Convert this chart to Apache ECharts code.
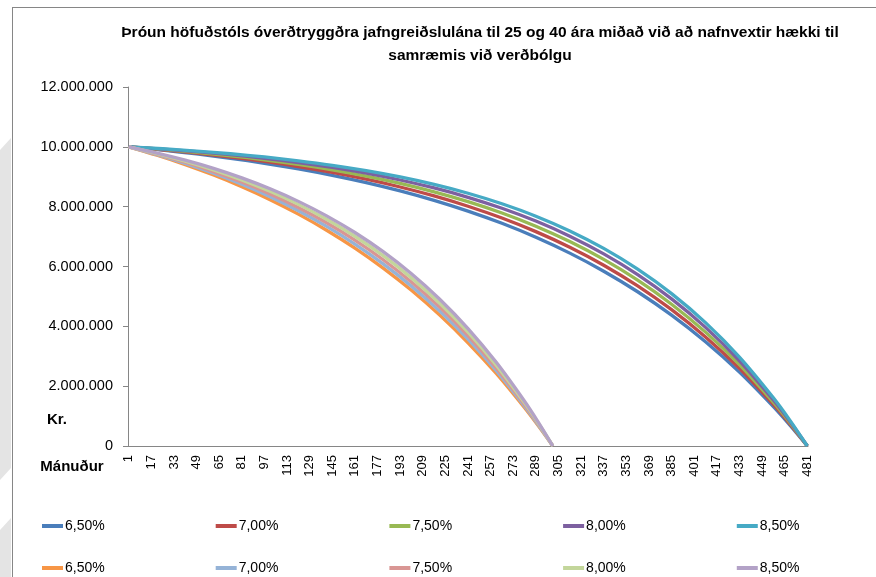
<!DOCTYPE html>
<html>
<head>
<meta charset="utf-8">
<script src="https://cdn.jsdelivr.net/npm/echarts@6/dist/echarts.min.js"></script>
<style>
html,body{margin:0;padding:0;background:#fff;}
#chart{width:876px;height:577px;}
</style>
</head>
<body>
<div id="chart"></div>
<script>
// ---- Data ----
const titleText = 'Þróun höfuðstóls óverðtryggðra jafngreiðslulána til 25 og 40 ára miðað við að nafnvextir hækki til\nsamræmis við verðbólgu';
const yAxisTitle = 'Kr.';
const xAxisTitle = 'Mánuður';
const rateLabels = ['6,50%', '7,00%', '7,50%', '8,00%', '8,50%'];

// month categories 1..481
const months = [];
for (let m = 1; m <= 481; m++) months.push(m);

// 40-year loans (sampled months)
const months40 = [1,25,49,73,97,121,145,169,193,217,241,265,289,313,337,361,385,409,433,457,469,481];
const loan40_650 = [10000000,9888000,9761000,9616000,9451000,9263000,9049000,8805000,8528000,8212000,7852000,7443000,6977000,6447000,5843000,5156000,4373000,3483000,2469000,1314000,678000,0];
const loan40_700 = [10000000,9902000,9790000,9660000,9512000,9341000,9144000,8918000,8658000,8359000,8015000,7620000,7166000,6644000,6043000,5352000,4558000,3645000,2595000,1388000,718000,0];
const loan40_750 = [10000000,9915000,9816000,9701000,9567000,9412000,9231000,9022000,8779000,8497000,8169000,7788000,7346000,6833000,6236000,5544000,4740000,3806000,2722000,1462000,759000,0];
const loan40_800 = [10000000,9926000,9839000,9736000,9617000,9476000,9311000,9118000,8891000,8625000,8313000,7947000,7518000,7014000,6423000,5731000,4918000,3966000,2848000,1537000,799000,0];
const loan40_850 = [10000000,9936000,9859000,9769000,9661000,9534000,9384000,9205000,8994000,8744000,8448000,8096000,7681000,7188000,6604000,5913000,5094000,4124000,2974000,1613000,841000,0];

// 25-year loans (sampled months)
const months25 = [1,21,41,61,81,101,121,141,161,181,201,221,241,261,281,291,301];
const loan25_650 = [10000000,9719000,9405000,9056000,8667000,8234000,7751000,7213000,6614000,5946000,5203000,4374000,3451000,2422000,1277000,656000,0];
const loan25_700 = [10000000,9739000,9446000,9116000,8746000,8330000,7863000,7339000,6749000,6087000,5344000,4508000,3569000,2515000,1331000,685000,0];
const loan25_750 = [10000000,9758000,9484000,9173000,8822000,8423000,7972000,7461000,6882000,6226000,5483000,4641000,3688000,2608000,1385000,714000,0];
const loan25_800 = [10000000,9776000,9520000,9227000,8893000,8512000,8076000,7579000,7011000,6361000,5620000,4773000,3806000,2702000,1441000,744000,0];
const loan25_850 = [10000000,9793000,9554000,9279000,8962000,8597000,8177000,7693000,7136000,6495000,5756000,4905000,3925000,2796000,1497000,775000,0];

const colors40 = ['#4A7EBB', '#BE4B48', '#98B954', '#7D60A0', '#46AAC5'];
const colors25 = ['#F79646', '#95B3D7', '#D99694', '#C3D69B', '#B3A2C7'];

// ---- Build options ----
const FONT = '"Liberation Sans", Arial, sans-serif';
const sets40 = [loan40_650, loan40_700, loan40_750, loan40_800, loan40_850];
const sets25 = [loan25_650, loan25_700, loan25_750, loan25_800, loan25_850];

function pairs(ms, vals) { return ms.map((m, i) => [String(m), vals[i]]); }

const series = [];
const names40 = [], names25 = [];
sets40.forEach((vals, i) => {
  const n = '40 ' + rateLabels[i];
  names40.push(n);
  series.push({ name: n, type: 'line', data: pairs(months40, vals), symbol: 'none', smooth: 0.3,
    lineStyle: { width: 3.3, color: colors40[i] }, itemStyle: { color: colors40[i] } });
});
sets25.forEach((vals, i) => {
  const n = '25 ' + rateLabels[i];
  names25.push(n);
  series.push({ name: n, type: 'line', data: pairs(months25, vals), symbol: 'none', smooth: 0.3,
    lineStyle: { width: 3.3, color: colors25[i] }, itemStyle: { color: colors25[i] } });
});

const legendCommon = {
  orient: 'horizontal', icon: 'rect', itemWidth: 21, itemHeight: 4, itemGap: 111,
  textStyle: { fontFamily: FONT, fontSize: 14, color: '#000', padding: [0,0,0,-3] },
  formatter: name => name.split(' ')[1], selectedMode: false
};

const option = {
  animation: false,
  backgroundColor: '#fff',
  grid: { left: 128, right: 68, top: 87, bottom: 131, containLabel: false },
  xAxis: {
    type: 'category', data: months.map(String), boundaryGap: true,
    axisLine: { lineStyle: { color: '#868686', width: 1 } },
    axisTick: { interval: 0, length: 5, lineStyle: { color: '#868686' } },
    axisLabel: { interval: 15, rotate: 90, fontFamily: FONT, fontSize: 13, color: '#000', margin: 9 },
    splitLine: { show: false }
  },
  yAxis: {
    type: 'value', min: 0, max: 12000000, interval: 2000000,
    axisLine: { show: true, lineStyle: { color: '#868686' } },
    axisTick: { show: true, length: 5, lineStyle: { color: '#868686' } },
    splitLine: { show: false },
    axisLabel: { fontFamily: FONT, fontSize: 14.5, color: '#000', margin: 15,
      formatter: v => String(v).replace(/\B(?=(\d{3})+(?!\d))/g, '.') }
  },
  legend: [
    Object.assign({ data: names40, left: 37, top: 514 }, legendCommon),
    Object.assign({ data: names25, left: 37, top: 556 }, legendCommon)
  ],
  series: series,
  graphic: [
    { type: 'polygon', silent: true, shape: { points: [[0,150],[11,138],[11,468],[0,480]] }, style: { fill: '#e4e4e4' } },
    { type: 'polygon', silent: true, shape: { points: [[0,530],[11,518],[11,577],[0,577]] }, style: { fill: '#e4e4e4' } },
    { type: 'line', silent: true, shape: { x1: 12, y1: 7.5, x2: 876, y2: 7.5 }, style: { stroke: '#868686', lineWidth: 1 } },
    { type: 'line', silent: true, shape: { x1: 12.5, y1: 7, x2: 12.5, y2: 577 }, style: { stroke: '#868686', lineWidth: 1 } },
    { type: 'text', silent: true, x: 480, y: 21, style: { text: titleText, fontFamily: FONT, fontSize: 15.5, fontWeight: 'bold', fill: '#000', textAlign: 'center', lineHeight: 23 } },
    { type: 'text', silent: true, x: 57, y: 420, style: { text: yAxisTitle, fontFamily: FONT, fontSize: 15, fontWeight: 'bold', fill: '#000', textAlign: 'center', textVerticalAlign: 'middle' } },
    { type: 'text', silent: true, x: 72, y: 467, style: { text: xAxisTitle, fontFamily: FONT, fontSize: 15, fontWeight: 'bold', fill: '#000', textAlign: 'center', textVerticalAlign: 'middle' } }
  ]
};

const chart = echarts.init(document.getElementById('chart'), null, { renderer: 'canvas' });
chart.setOption(option);
</script>
</body>
</html>
